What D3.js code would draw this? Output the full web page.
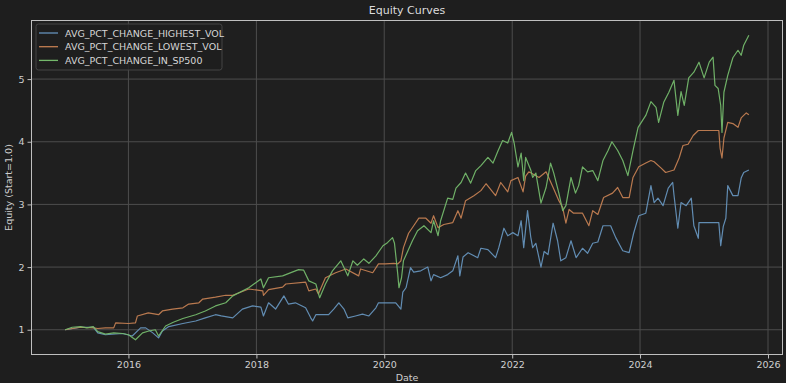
<!DOCTYPE html>
<html><head><meta charset="utf-8">
<script src="https://cdn.jsdelivr.net/npm/d3@7"></script>
<style>
body{margin:0;background:#1e1e1e;}
svg{display:block;font-family:"DejaVu Sans",sans-serif;}
</style>
</head><body>
<svg id="chart" width="786" height="383"></svg>
<script>
// ---- data (dates as decimal years) ----
const seriesNames = ["AVG_PCT_CHANGE_HIGHEST_VOL", "AVG_PCT_CHANGE_LOWEST_VOL", "AVG_PCT_CHANGE_IN_SP500"];
const seriesColors = ["#6592bb", "#c27e52", "#74b86b"];
const xTickYears = [2016, 2018, 2020, 2022, 2024, 2026];
const yTickValues = [1, 2, 3, 4, 5];

const hvDates = [2015.01,2015.25,2015.45,2015.52,2015.64,2015.91,2016.06,2016.19,2016.27,2016.38,2016.47,2016.53,2016.63,2016.85,2017.05,2017.20,2017.36,2017.45,2017.63,2017.78,2017.94,2018.07,2018.11,2018.19,2018.30,2018.43,2018.50,2018.61,2018.77,2018.85,2018.88,2018.93,2019.13,2019.21,2019.29,2019.37,2019.43,2019.55,2019.66,2019.76,2019.87,2019.91,2020.18,2020.26,2020.29,2020.34,2020.41,2020.46,2020.57,2020.68,2020.73,2020.77,2020.88,2020.99,2021.07,2021.15,2021.18,2021.23,2021.31,2021.46,2021.51,2021.62,2021.74,2021.79,2021.87,2021.93,2022.01,2022.09,2022.14,2022.18,2022.24,2022.29,2022.32,2022.37,2022.45,2022.50,2022.56,2022.64,2022.71,2022.76,2022.84,2022.92,2023.00,2023.10,2023.18,2023.26,2023.34,2023.42,2023.54,2023.62,2023.73,2023.83,2023.90,2023.98,2024.09,2024.17,2024.22,2024.28,2024.36,2024.44,2024.51,2024.53,2024.59,2024.64,2024.72,2024.80,2024.84,2024.91,2024.92,2025.23,2025.26,2025.30,2025.34,2025.37,2025.45,2025.53,2025.58,2025.62,2025.70];
const hvValues = [1.00,1.04,1.04,0.95,0.92,0.94,0.90,1.03,1.03,0.95,0.87,0.98,1.05,1.10,1.14,1.19,1.24,1.22,1.19,1.33,1.38,1.36,1.22,1.43,1.33,1.54,1.41,1.43,1.35,1.19,1.14,1.24,1.24,1.33,1.43,1.33,1.19,1.22,1.25,1.22,1.35,1.43,1.43,1.33,1.60,1.67,1.99,1.92,1.94,2.00,1.78,1.88,1.83,1.88,1.94,2.18,1.86,2.16,2.23,2.15,2.30,2.28,2.15,2.31,2.62,2.50,2.55,2.50,2.74,2.31,2.90,2.48,2.31,2.38,2.00,2.25,2.20,2.70,2.42,2.10,2.15,2.42,2.15,2.30,2.22,2.38,2.40,2.66,2.66,2.47,2.26,2.23,2.54,2.82,2.86,3.30,3.03,3.10,2.98,3.26,3.35,3.15,2.62,3.03,2.98,3.10,2.66,2.46,2.71,2.71,2.34,2.65,2.78,3.30,3.14,3.14,3.42,3.51,3.55];

const lvDates = [2015.01,2015.25,2015.45,2015.52,2015.64,2015.77,2015.80,2016.00,2016.11,2016.14,2016.31,2016.47,2016.53,2016.69,2016.85,2016.94,2017.10,2017.16,2017.36,2017.52,2017.63,2017.88,2018.10,2018.11,2018.19,2018.41,2018.46,2018.77,2018.82,2018.93,2018.97,2019.08,2019.24,2019.40,2019.60,2019.63,2019.82,2019.91,2020.02,2020.15,2020.21,2020.26,2020.30,2020.38,2020.46,2020.54,2020.65,2020.73,2020.77,2020.84,2020.93,2021.07,2021.15,2021.20,2021.27,2021.40,2021.51,2021.59,2021.74,2021.82,2021.93,2021.98,2022.09,2022.17,2022.21,2022.26,2022.42,2022.53,2022.64,2022.73,2022.79,2022.84,2022.89,2022.96,2023.10,2023.20,2023.26,2023.34,2023.43,2023.57,2023.65,2023.73,2023.83,2023.89,2023.98,2024.09,2024.17,2024.22,2024.33,2024.40,2024.53,2024.61,2024.67,2024.75,2024.83,2024.91,2025.23,2025.25,2025.28,2025.31,2025.37,2025.45,2025.53,2025.58,2025.66,2025.70];
const lvValues = [1.00,1.04,1.03,1.02,1.03,1.03,1.11,1.10,1.11,1.22,1.27,1.24,1.30,1.33,1.35,1.41,1.43,1.49,1.52,1.55,1.55,1.65,1.62,1.55,1.64,1.68,1.73,1.76,1.62,1.65,1.57,1.83,1.91,1.97,1.86,1.97,1.91,2.05,2.05,2.06,2.05,2.10,2.31,2.54,2.66,2.78,2.78,2.70,2.82,2.63,2.68,2.71,2.90,2.78,3.06,3.14,3.22,3.33,3.14,3.35,3.20,3.38,3.43,3.20,3.45,3.52,3.43,3.52,3.27,3.06,2.95,2.70,2.92,2.86,2.86,2.66,2.90,2.84,3.11,3.18,3.27,3.11,3.11,3.43,3.60,3.66,3.70,3.68,3.58,3.51,3.55,3.74,3.94,3.96,4.10,4.18,4.18,3.90,3.74,4.06,4.31,4.29,4.23,4.38,4.46,4.43];

const spDates = [2015.01,2015.12,2015.25,2015.35,2015.45,2015.52,2015.64,2015.77,2015.91,2016.00,2016.11,2016.22,2016.32,2016.42,2016.47,2016.58,2016.70,2016.85,2017.05,2017.20,2017.36,2017.52,2017.63,2017.88,2018.07,2018.11,2018.19,2018.41,2018.66,2018.74,2018.82,2018.93,2018.99,2019.08,2019.19,2019.32,2019.43,2019.51,2019.58,2019.68,2019.76,2019.87,2019.98,2020.05,2020.13,2020.16,2020.21,2020.23,2020.27,2020.30,2020.37,2020.44,2020.52,2020.62,2020.73,2020.77,2020.84,2020.88,2020.99,2021.07,2021.12,2021.20,2021.27,2021.35,2021.43,2021.51,2021.62,2021.70,2021.78,2021.85,2021.93,2021.99,2022.03,2022.09,2022.14,2022.18,2022.21,2022.29,2022.32,2022.37,2022.45,2022.53,2022.60,2022.65,2022.73,2022.79,2022.84,2022.92,2022.99,2023.04,2023.10,2023.18,2023.26,2023.34,2023.42,2023.50,2023.56,2023.65,2023.73,2023.81,2023.89,2023.97,2024.04,2024.09,2024.17,2024.25,2024.29,2024.37,2024.45,2024.53,2024.59,2024.64,2024.69,2024.76,2024.84,2024.92,2025.00,2025.08,2025.14,2025.17,2025.22,2025.26,2025.28,2025.31,2025.37,2025.45,2025.53,2025.58,2025.62,2025.70];
const spValues = [1.00,1.04,1.05,1.03,1.05,0.97,0.93,0.95,0.94,0.92,0.84,0.95,0.98,1.00,0.90,1.06,1.12,1.18,1.24,1.30,1.38,1.43,1.54,1.67,1.81,1.67,1.83,1.86,1.96,1.95,1.78,1.73,1.51,1.73,1.94,2.10,1.86,2.10,2.03,2.13,2.06,2.18,2.34,2.39,2.47,2.38,1.90,1.67,1.83,2.10,2.26,2.42,2.58,2.66,2.55,2.74,2.50,2.74,3.10,3.08,3.26,3.35,3.50,3.34,3.54,3.62,3.75,3.66,3.86,4.02,3.98,4.15,3.98,3.60,3.82,3.38,3.75,3.55,3.43,3.50,3.02,3.27,3.66,3.50,3.18,2.90,2.98,3.43,3.18,3.30,3.60,3.52,3.54,3.38,3.70,3.86,4.00,3.86,3.70,3.46,3.86,4.23,4.34,4.42,4.64,4.55,4.31,4.63,4.79,4.98,4.42,4.80,4.58,5.02,5.11,5.27,5.02,5.27,5.35,4.90,4.85,4.58,4.15,4.79,5.06,5.34,5.46,5.38,5.54,5.70];

// ---- helpers ----
function decYear(y){
  const yr = Math.floor(y);
  const s = Date.UTC(yr,0,1), e = Date.UTC(yr+1,0,1);
  return new Date(s + (y-yr)*(e-s));
}
const series = [
  {name: seriesNames[0], color: seriesColors[0], pts: hvDates.map((d,i)=>({t:decYear(d), v:hvValues[i]}))},
  {name: seriesNames[1], color: seriesColors[1], pts: lvDates.map((d,i)=>({t:decYear(d), v:lvValues[i]}))},
  {name: seriesNames[2], color: seriesColors[2], pts: spDates.map((d,i)=>({t:decYear(d), v:spValues[i]}))}
];

const W = 786, H = 383;
const M = {left:31, right:783, top:20, bottom:355};
const svg = d3.select("#chart");
svg.append("rect").attr("width",W).attr("height",H).attr("fill","#1e1e1e");
svg.append("rect").attr("x",M.left).attr("y",M.top).attr("width",M.right-M.left).attr("height",M.bottom-M.top).attr("fill","#1f1f1f");

// domains with 5% margins like matplotlib
const allDates = hvDates.concat(lvDates, spDates);
const allVals = hvValues.concat(lvValues, spValues);
const [dMin,dMax] = d3.extent(allDates);
const [vMin,vMax] = d3.extent(allVals);
const dPad = (dMax-dMin)*0.05, vPad = (vMax-vMin)*0.05;
const x = d3.scaleUtc().domain([decYear(dMin-dPad), decYear(dMax+dPad)]).range([M.left, M.right]);
const y = d3.scaleLinear().domain([vMin-vPad, vMax+vPad]).range([M.bottom, M.top]);

const xTicks = xTickYears.map(yy => new Date(Date.UTC(yy,0,1)));

// grid
const grid = svg.append("g");
grid.selectAll("line.gx").data(xTicks).join("line")
  .attr("x1",d=>x(d)).attr("x2",d=>x(d)).attr("y1",M.top).attr("y2",M.bottom)
  .attr("stroke","#4d4d4d").attr("stroke-width",1);
grid.selectAll("line.gy").data(yTickValues).join("line")
  .attr("x1",M.left).attr("x2",M.right).attr("y1",d=>y(d)).attr("y2",d=>y(d))
  .attr("stroke","#4d4d4d").attr("stroke-width",1);

// lines
const line = d3.line().x(d=>x(d.t)).y(d=>y(d.v));
svg.append("g").selectAll("path").data(series).join("path")
  .attr("d", d=>line(d.pts)).attr("fill","none")
  .attr("stroke", d=>d.color).attr("stroke-width",1.2).attr("stroke-opacity",0.95).attr("stroke-linejoin","round");

// frame
svg.append("rect").attr("x",M.left+0.5).attr("y",M.top+0.5).attr("width",M.right-M.left-1).attr("height",M.bottom-M.top-1)
  .attr("fill","none").attr("stroke","#bfbfbf").attr("stroke-width",1);

// axes
const xAxis = d3.axisBottom(x).tickValues(xTicks).tickFormat(d3.utcFormat("%Y")).tickSize(3.5).tickPadding(3);
const gx = svg.append("g").attr("transform",`translate(0,${M.bottom})`).call(xAxis);
const yAxis = d3.axisLeft(y).tickValues(yTickValues).tickFormat(d3.format("d")).tickSize(3.5).tickPadding(3);
const gy = svg.append("g").attr("transform",`translate(${M.left},0)`).call(yAxis);
[gx,gy].forEach(g=>{
  g.select(".domain").remove();
  g.selectAll(".tick line").attr("stroke","#bfbfbf");
  g.selectAll(".tick text").attr("fill","#cfcfcf").style("font-size","9.5px").style("font-family","DejaVu Sans");
});

// titles
svg.append("text").attr("x",(M.left+M.right)/2).attr("y",14).attr("text-anchor","middle")
  .attr("fill","#dcdcdc").style("font-size","11px").text("Equity Curves");
svg.append("text").attr("x",(M.left+M.right)/2).attr("y",381).attr("text-anchor","middle")
  .attr("fill","#cfcfcf").style("font-size","9.5px").text("Date");
svg.append("text").attr("transform",`translate(12,${(M.top+M.bottom)/2}) rotate(-90)`).attr("text-anchor","middle")
  .attr("fill","#cfcfcf").style("font-size","9.5px").text("Equity (Start=1.0)");

// legend
const lg = svg.append("g");
lg.append("rect").attr("x",36).attr("y",24).attr("width",186).attr("height",46).attr("rx",2.5)
  .attr("fill","#1f1f1f").attr("fill-opacity",0.85).attr("stroke","#444").attr("stroke-width",1);
const items = lg.selectAll("g.item").data(series).join("g").attr("transform",(d,i)=>`translate(0,${33+i*13.7})`);
items.append("line").attr("x1",39).attr("x2",58).attr("stroke",d=>d.color).attr("stroke-width",1.3);
items.append("text").attr("x",65).attr("y",3.5).attr("fill","#d6d6d6").style("font-size","9.5px").text(d=>d.name);
</script>
</body></html>
